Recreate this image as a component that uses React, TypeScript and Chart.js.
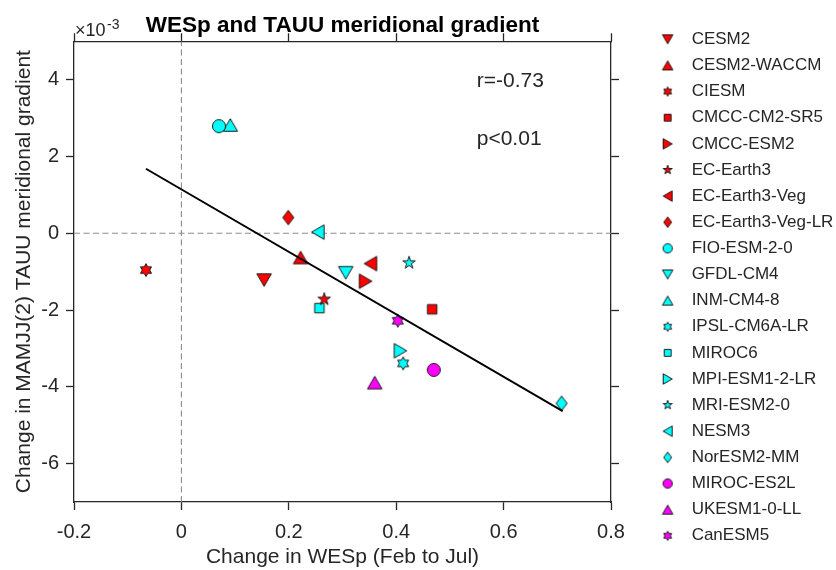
import React, { useEffect, useRef } from 'react';
import { Chart, registerables } from 'chart.js';

Chart.register(...registerables);

const FONT = '"Liberation Sans", Arial, Helvetica, sans-serif';
Chart.defaults.font.family = FONT;

// ---- data ----
const MODELS = [
  'CESM2', 'CESM2-WACCM', 'CIESM', 'CMCC-CM2-SR5', 'CMCC-ESM2', 'EC-Earth3', 'EC-Earth3-Veg',
  'EC-Earth3-Veg-LR', 'FIO-ESM-2-0', 'GFDL-CM4', 'INM-CM4-8', 'IPSL-CM6A-LR', 'MIROC6',
  'MPI-ESM1-2-LR', 'MRI-ESM2-0', 'NESM3', 'NorESM2-MM', 'MIROC-ES2L', 'UKESM1-0-LL', 'CanESM5',
];
// Change in WESp (Feb to Jul)
const WESP_CHANGE = [
  0.154, 0.222, -0.066, 0.467, 0.343, 0.266, 0.352, 0.199, 0.070, 0.306,
  0.091, 0.413, 0.257, 0.408, 0.424, 0.254, 0.708, 0.470, 0.360, 0.403,
];
// Change in MAMJJ(2) TAUU meridional gradient, in units of 1e-3
const TAUU_CHANGE = [
  -1.22, -0.63, -0.96, -1.98, -1.25, -1.72, -0.79, 0.41, 2.79, -1.03,
  2.82, -3.39, -1.95, -3.06, -0.77, 0.03, -4.43, -3.56, -3.89, -2.28,
];
const FIT_X = [-0.066, 0.71];
const FIT_Y = [1.68, -4.63];
const X_TICKS = [-0.2, 0, 0.2, 0.4, 0.6, 0.8];
const X_TICK_LABELS = ['-0.2', '0', '0.2', '0.4', '0.6', '0.8'];
const Y_TICKS = [-6, -4, -2, 0, 2, 4];
const Y_TICK_LABELS = ['-6', '-4', '-2', '0', '2', '4'];
const STATS_TEXT = ['r=-0.73', 'p<0.01'];
const STATS_X = [0.55, 0.55];
const STATS_Y = [3.95, 2.45];

// ---- styles ----
const RED = '#ff0000';
const CYAN = '#00ffff';
const MAGENTA = '#ff00ff';
const MARKER_SHAPES = ['v', '^', 'h', 's', '>', 'p', '<', 'd', 'o', 'v', '^', 'h', 's', '>', 'p', '<', 'd', 'o', '^', 'h'];
const MARKER_COLORS = [
  RED, RED, RED, RED, RED, RED, RED, RED,
  CYAN, CYAN, CYAN, CYAN, CYAN, CYAN, CYAN, CYAN, CYAN,
  MAGENTA, MAGENTA, MAGENTA,
];
const INK = '#262626';
const EDGE = '#1a1a1a';

const X_MIN = -0.2, X_MAX = 0.8, Y_MIN = -7, Y_MAX = 5;

function makeMarker(shape: string, color: string, s: number): HTMLCanvasElement {
  let dim = Math.ceil(18 * s) + 4;
  if (dim % 2) dim += 1;
  const c = document.createElement('canvas');
  c.width = dim;
  c.height = dim;
  const ctx = c.getContext('2d')!;
  const cx = dim / 2, cy = dim / 2;
  ctx.beginPath();
  const b = 14.5 * s, h = 12.5 * s;
  const star = (n: number, R: number, r: number) => {
    for (let k = 0; k < 2 * n; k++) {
      const rad = (k * Math.PI) / n - Math.PI / 2;
      const rr = k % 2 === 0 ? R : r;
      const px = cx + Math.cos(rad) * rr, py = cy + Math.sin(rad) * rr;
      if (k === 0) ctx.moveTo(px, py); else ctx.lineTo(px, py);
    }
  };
  switch (shape) {
    case 'v':
      ctx.moveTo(cx - b / 2, cy - h / 2); ctx.lineTo(cx + b / 2, cy - h / 2); ctx.lineTo(cx, cy + h / 2);
      break;
    case '^':
      ctx.moveTo(cx, cy - h / 2); ctx.lineTo(cx + b / 2, cy + h / 2); ctx.lineTo(cx - b / 2, cy + h / 2);
      break;
    case '>':
      ctx.moveTo(cx - h / 2, cy - b / 2); ctx.lineTo(cx + h / 2, cy); ctx.lineTo(cx - h / 2, cy + b / 2);
      break;
    case '<':
      ctx.moveTo(cx + h / 2, cy - b / 2); ctx.lineTo(cx - h / 2, cy); ctx.lineTo(cx + h / 2, cy + b / 2);
      break;
    case 'o':
      ctx.arc(cx, cy, 6.5 * s, 0, Math.PI * 2);
      break;
    case 's': {
      const a = 9.5 * s;
      ctx.rect(cx - a / 2, cy - a / 2, a, a);
      break;
    }
    case 'd': {
      const w = 11 * s, hh = 14.5 * s;
      ctx.moveTo(cx, cy - hh / 2); ctx.lineTo(cx + w / 2, cy); ctx.lineTo(cx, cy + hh / 2); ctx.lineTo(cx - w / 2, cy);
      break;
    }
    case 'p': {
      const R = 6.6 * s;
      star(5, R, R * 0.382);
      break;
    }
    case 'h': {
      const R = 6.4 * s;
      star(6, R, R / Math.sqrt(3));
      break;
    }
  }
  ctx.closePath();
  ctx.fillStyle = color;
  ctx.fill();
  ctx.lineWidth = 1;
  ctx.strokeStyle = EDGE;
  ctx.lineJoin = 'miter';
  ctx.stroke();
  return c;
}

const textPlugin = {
  id: 'statsText',
  afterDatasetsDraw(chart: any) {
    const { ctx, chartArea, scales } = chart;
    ctx.save();
    ctx.fillStyle = INK;
    ctx.textAlign = 'left';
    ctx.textBaseline = 'middle';
    ctx.font = `21px ${FONT}`;
    STATS_TEXT.forEach((t, i) => {
      ctx.fillText(t, scales.x.getPixelForValue(STATS_X[i]), scales.y.getPixelForValue(STATS_Y[i]));
    });
    // axis exponent label
    ctx.textBaseline = 'alphabetic';
    ctx.font = `18px ${FONT}`;
    const x0 = chartArea.left + 1;
    const y0 = chartArea.top - 5;
    ctx.fillText('\u00d710', x0, y0);
    const w = ctx.measureText('\u00d710').width;
    ctx.font = `14px ${FONT}`;
    ctx.fillText('-3', x0 + w + 1.5, y0 - 7);
    ctx.restore();
  },
};

const tickSetter = (values: number[]) => (scale: any) => {
  scale.ticks = values.map((v) => ({ value: v }));
};
const labelFor = (values: number[], labels: string[]) => (v: any) => {
  const idx = values.findIndex((t) => Math.abs(t - Number(v)) < 1e-9);
  return idx >= 0 ? labels[idx] : '';
};

const gridOpts = { drawOnChartArea: false, drawTicks: true, tickLength: 8, tickColor: INK, tickWidth: 1.3 };
const borderOpts = { display: true, color: INK, width: 1.3 };

export default function App() {
  const ref = useRef<HTMLCanvasElement>(null);
  useEffect(() => {
    const canvas = ref.current;
    if (!canvas) return;
    const dataMarkers = MODELS.map((_, i) => makeMarker(MARKER_SHAPES[i], MARKER_COLORS[i], 1));
    const legendMarkers = MODELS.map((_, i) => makeMarker(MARKER_SHAPES[i], MARKER_COLORS[i], 0.72));

    const datasets: any[] = [
      ...MODELS.map((name, i) => ({
        label: name,
        data: [{ x: WESP_CHANGE[i], y: TAUU_CHANGE[i] }],
        pointStyle: dataMarkers[i],
        pointRadius: 7,
        showLine: false,
        order: 1,
      })),
      {
        label: 'fit',
        data: FIT_X.map((x, i) => ({ x, y: FIT_Y[i] })),
        showLine: true,
        borderColor: '#000000',
        borderWidth: 2,
        pointRadius: 0,
        order: 0,
      },
      {
        label: 'x=0',
        data: [{ x: 0, y: Y_MIN }, { x: 0, y: Y_MAX }],
        showLine: true,
        borderColor: '#8c8c8c',
        borderWidth: 1.1,
        borderDash: [6, 3.5],
        pointRadius: 0,
        order: 2,
      },
      {
        label: 'y=0',
        data: [{ x: X_MIN, y: 0 }, { x: X_MAX, y: 0 }],
        showLine: true,
        borderColor: '#8c8c8c',
        borderWidth: 1.1,
        borderDash: [6, 3.5],
        pointRadius: 0,
        order: 2,
      },
    ];

    const chart = new Chart(canvas, {
      type: 'scatter',
      data: { datasets },
      plugins: [textPlugin],
      options: {
        animation: false,
        responsive: false,
        events: [],
        devicePixelRatio: 1,
        layout: { padding: 0 },
        scales: {
          x: {
            type: 'linear', position: 'bottom', min: X_MIN, max: X_MAX,
            afterBuildTicks: tickSetter(X_TICKS),
            afterFit: (s: any) => { s.height = 68; },
            ticks: { callback: labelFor(X_TICKS, X_TICK_LABELS), font: { size: 20 }, color: INK, padding: 10, maxRotation: 0, autoSkip: false },
            grid: gridOpts, border: borderOpts,
            title: { display: true, text: 'Change in WESp (Feb to Jul)', font: { size: 21 }, color: INK, padding: { top: 0, bottom: 0 } },
          },
          x2: {
            type: 'linear', position: 'top', min: X_MIN, max: X_MAX,
            afterBuildTicks: tickSetter(X_TICKS),
            afterFit: (s: any) => { s.height = 2.3; },
            ticks: { display: false },
            grid: gridOpts, border: borderOpts,
          },
          y: {
            type: 'linear', position: 'left', min: Y_MIN, max: Y_MAX,
            afterBuildTicks: tickSetter(Y_TICKS),
            afterFit: (s: any) => { s.width = 74; },
            ticks: { callback: labelFor(Y_TICKS, Y_TICK_LABELS), font: { size: 20 }, color: INK, padding: 7, autoSkip: false },
            grid: gridOpts, border: borderOpts,
            title: { display: true, text: 'Change in MAMJJ(2) TAUU meridional gradient', font: { size: 21 }, color: INK, padding: { top: 12, bottom: 0 } },
          },
          y2: {
            type: 'linear', position: 'right', min: Y_MIN, max: Y_MAX,
            afterBuildTicks: tickSetter(Y_TICKS),
            afterFit: (s: any) => { s.width = 32; },
            ticks: { display: false },
            grid: gridOpts, border: borderOpts,
          },
        },
        plugins: {
          tooltip: { enabled: false },
          title: {
            display: true,
            text: 'WESp and TAUU meridional gradient',
            fullSize: false,
            font: { size: 22.5, weight: 'bold', lineHeight: 1.2 },
            color: '#000000',
            padding: { top: 12, bottom: 0 },
          },
          legend: {
            display: true,
            position: 'right',
            align: 'start',
            maxWidth: 193,
            title: { display: true, text: '', font: { size: 10, lineHeight: 1.2 }, padding: { top: 9.67, bottom: 0 } },
            labels: {
              usePointStyle: true,
              pointStyleWidth: 31,
              font: { size: 17 },
              color: INK,
              padding: 9.13,
              generateLabels: () =>
                MODELS.map((name, i) => ({
                  text: name,
                  pointStyle: legendMarkers[i],
                  fillStyle: MARKER_COLORS[i],
                  strokeStyle: EDGE,
                  lineWidth: 1,
                  hidden: false,
                  datasetIndex: i,
                  fontColor: INK,
                })),
            },
          },
        },
      } as any,
    });
    return () => chart.destroy();
  }, []);

  return (
    <div style={{ position: 'absolute', left: 0, top: 0, width: 836, height: 570 }}>
      <canvas ref={ref} width={836} height={570} style={{ display: 'block', width: 836, height: 570 }} />
    </div>
  );
}
